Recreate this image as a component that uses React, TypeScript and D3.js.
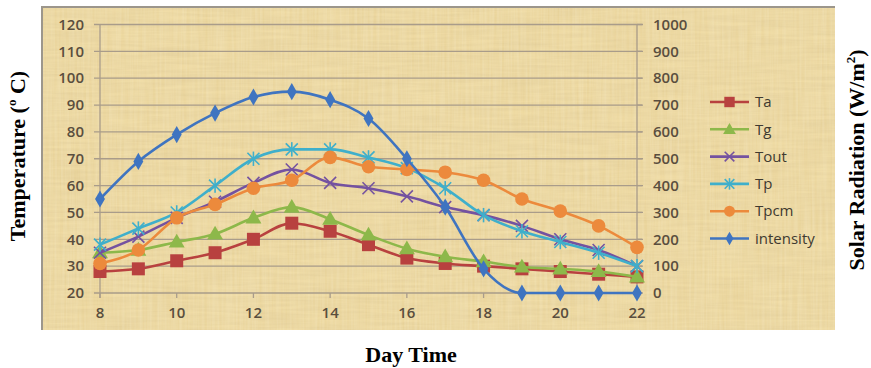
import React from "react";
import * as d3 from "d3";

// hours of the day
const hours = [8, 9, 10, 11, 12, 13, 14, 15, 16, 17, 18, 19, 20, 21, 22];

// temperatures (deg C)
const ta = [28, 29, 32, 35, 40, 46, 43, 38, 33, 31, 30, 29, 28, 27, 26];
const tg = [35, 36, 39, 42, 48, 52, 47.5, 41.6, 36.5, 33.5, 31.7, 29.7, 29, 28, 26];
const tout = [35, 41, 48, 54, 61, 66, 61, 59, 56, 52, 49, 45, 40, 36, 30];
const tp = [38, 44, 50, 60, 70, 73.5, 73.5, 70.5, 66.5, 59, 49, 43, 39, 35, 30];
const tpcm = [31, 36, 48, 53, 59, 62, 70.5, 67, 66, 65, 62, 55, 50.5, 45, 37];
// solar radiation (W/m2)
const intensity = [350, 490, 590, 670, 730, 750, 720, 650, 500, 320, 90, 0, 0, 0, 0];

const tempTicks = [20, 30, 40, 50, 60, 70, 80, 90, 100, 110, 120];
const radTicks = [0, 100, 200, 300, 400, 500, 600, 700, 800, 900, 1000];
const hourTicks = [8, 10, 12, 14, 16, 18, 20, 22];

const series = [
  { name: "Ta", values: ta, color: "#B8413F", marker: "square", axis: "left" },
  { name: "Tg", values: tg, color: "#8DB84A", marker: "triangle", axis: "left" },
  { name: "Tout", values: tout, color: "#7452A0", marker: "x", axis: "left" },
  { name: "Tp", values: tp, color: "#3FAFCB", marker: "star", axis: "left" },
  { name: "Tpcm", values: tpcm, color: "#EC8A3C", marker: "circle", axis: "left" },
  { name: "intensity", values: intensity, color: "#3F74C0", marker: "diamond", axis: "right" },
];

const x = d3.scaleLinear().domain([8, 22]).range([100, 637]);
const yL = d3.scaleLinear().domain([20, 120]).range([293, 24.5]);
const yR = d3.scaleLinear().domain([0, 1000]).range([293, 24.5]);

function Marker({ kind, cx, cy, color, s = 1 }) {
  if (kind === "square") {
    const h = 6.5 * s;
    return <rect x={cx - h} y={cy - h} width={2 * h} height={2 * h} fill={color} />;
  }
  if (kind === "triangle") {
    const sym = d3.symbol(d3.symbolTriangle, 110 * s * s)();
    return <path d={sym} transform={`translate(${cx},${cy + 1})`} fill={color} />;
  }
  if (kind === "circle") return <circle cx={cx} cy={cy} r={6.8 * s} fill={color} />;
  if (kind === "diamond") {
    const sym = d3.symbol(d3.symbolDiamond, 85 * s * s)();
    return <path d={sym} transform={`translate(${cx},${cy})`} fill={color} />;
  }
  const r = 6 * s;
  const lines = [
    [-r, -r, r, r],
    [-r, r, r, -r],
  ];
  if (kind === "star") {
    lines.push([0, -r * 1.2, 0, r * 1.2]);
  }
  return (
    <g stroke={color} strokeWidth={1.6}>
      {lines.map((l, i) => (
        <line key={i} x1={cx + l[0]} y1={cy + l[1]} x2={cx + l[2]} y2={cy + l[3]} />
      ))}
    </g>
  );
}

export default function App() {
  const tickFont = {
    fontFamily: "'Open Sans', sans-serif",
    fontSize: 15,
    fontWeight: 600,
    fill: "#5A4E3E",
  };
  const titleFont = "'Liberation Serif', 'Times New Roman', serif";

  return (
    <svg
      width={871}
      height={368}
      style={{ position: "absolute", left: 0, top: 0, background: "#fff" }}
    >
      <defs>
        <filter id="papyrus" x="0" y="0" width="100%" height="100%">
          <feTurbulence type="fractalNoise" baseFrequency="0.02 0.35" numOctaves="3" seed="4" result="n" />
          <feColorMatrix
            in="n"
            type="matrix"
            values="0 0 0 0 0.55  0 0 0 0 0.42  0 0 0 0 0.2  0 0 0 0.35 -0.08"
          />
          <feComposite in2="SourceGraphic" operator="in" />
        </filter>
        <filter id="papyrus2" x="0" y="0" width="100%" height="100%">
          <feTurbulence type="fractalNoise" baseFrequency="0.4 0.015" numOctaves="2" seed="9" />
          <feColorMatrix type="matrix" values="0 0 0 0 1  0 0 0 0 0.98  0 0 0 0 0.85  0 0 0 0.3 -0.06" />
          <feComposite in2="SourceGraphic" operator="in" />
        </filter>
      </defs>

      {/* background panel */}
      <rect x={42} y={7} width={793} height={323} fill="#EED9A0" />
      <rect x={42} y={7} width={793} height={323} fill="#EED9A0" filter="url(#papyrus)" />
      <rect x={42} y={7} width={793} height={323} fill="#EED9A0" filter="url(#papyrus2)" />
      <path d="M42,330 V7 H835" fill="none" stroke="#9C968C" strokeWidth={2} />

      {/* grid */}
      {tempTicks.map((t) => (
        <line key={t} x1={94} x2={643} y1={yL(t)} y2={yL(t)} stroke="#A99C8A" strokeWidth={1.3} />
      ))}
      <line x1={x(8)} x2={x(8)} y1={yL(120)} y2={yL(20) + 5} stroke="#A99C8A" strokeWidth={1.3} />
      <line x1={x(22)} x2={x(22)} y1={yL(120)} y2={yL(20) + 5} stroke="#A99C8A" strokeWidth={1.3} />
      {hourTicks.map((h) => (
        <line key={h} x1={x(h)} x2={x(h)} y1={yL(20)} y2={yL(20) + 5} stroke="#A99C8A" strokeWidth={1.3} />
      ))}
      {radTicks.map((t) => (
        <line key={t} x1={x(22)} x2={x(22) + 5} y1={yR(t)} y2={yR(t)} stroke="#A99C8A" strokeWidth={1.3} />
      ))}

      {/* tick labels */}
      {tempTicks.map((t) => (
        <text key={t} x={84} y={yL(t)} dy="0.35em" textAnchor="end" {...tickFont}>
          {t}
        </text>
      ))}
      {radTicks.map((t) => (
        <text key={t} x={653} y={yR(t)} dy="0.35em" textAnchor="start" {...tickFont}>
          {t}
        </text>
      ))}
      {hourTicks.map((h) => (
        <text key={h} x={x(h)} y={318} textAnchor="middle" {...tickFont}>
          {h}
        </text>
      ))}

      {/* series */}
      {series.map((s) => {
        const y = s.axis === "left" ? yL : yR;
        const line = d3
          .line<number>()
          .x((_, i) => x(hours[i]))
          .y((v) => y(v))
          .curve(d3.curveMonotoneX);
        return (
          <g key={s.name}>
            <path d={line(s.values) || ""} fill="none" stroke={s.color} strokeWidth={2.6} />
            {s.values.map((v, i) => (
              <Marker key={i} kind={s.marker} cx={x(hours[i])} cy={y(v)} color={s.color} />
            ))}
          </g>
        );
      })}

      {/* legend */}
      {series.map((s, i) => {
        const ly = 102 + i * 27.3;
        return (
          <g key={s.name}>
            <line x1={710} x2={749} y1={ly} y2={ly} stroke={s.color} strokeWidth={2.6} />
            <Marker kind={s.marker} cx={729.5} cy={ly} color={s.color} s={0.8} />
            <text x={755} y={ly} dy="0.35em" {...tickFont} fontWeight={400} fill="#3F3A30">
              {s.name}
            </text>
          </g>
        );
      })}

      {/* axis titles */}
      <text
        transform="translate(25,156) rotate(-90)"
        textAnchor="middle"
        fontFamily={titleFont}
        fontWeight="bold"
        fontSize={22}
      >
        Temperature (
        <tspan fontSize={13} dy={-9}>o</tspan>
        <tspan dy={9}> C)</tspan>
      </text>
      <text
        transform="translate(864,160) rotate(-90)"
        textAnchor="middle"
        fontFamily={titleFont}
        fontWeight="bold"
        fontSize={22}
      >
        Solar Radiation (W/m
        <tspan fontSize={13} dy={-9}>2</tspan>
        <tspan dy={9}>)</tspan>
      </text>
      <text
        x={411}
        y={362}
        textAnchor="middle"
        fontFamily={titleFont}
        fontWeight="bold"
        fontSize={22}
      >
        Day Time
      </text>
    </svg>
  );
}
